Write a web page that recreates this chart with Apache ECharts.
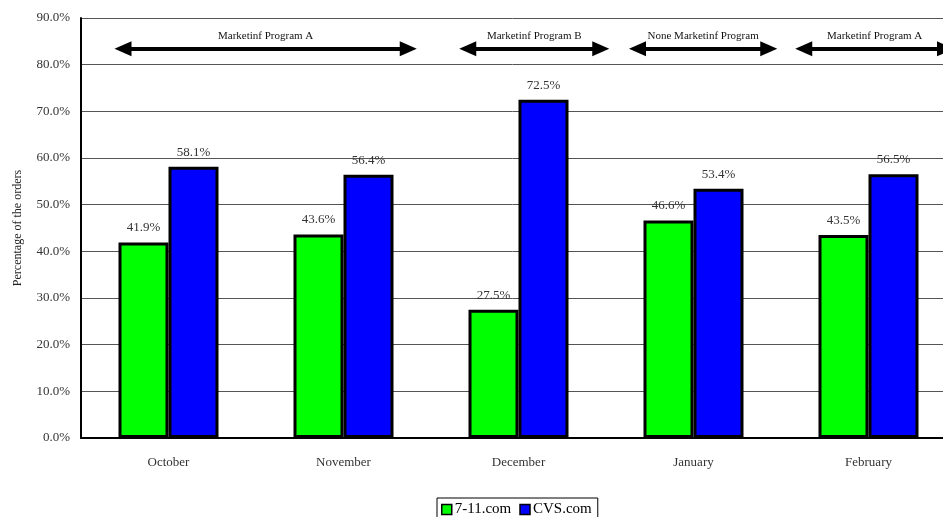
<!DOCTYPE html>
<html>
<head>
<meta charset="utf-8">
<script src="https://cdn.jsdelivr.net/npm/echarts@6/dist/echarts.min.js"></script>
<style>html,body{margin:0;padding:0;background:#fff;}#c{width:943px;height:517px;}</style>
</head>
<body>
<div id="c"></div>
<script>
const categories = ['October', 'November', 'December', 'January', 'February'];
const seven11 = [41.9, 43.6, 27.5, 46.6, 43.5];
const cvs = [58.1, 56.4, 72.5, 53.4, 56.5];
const periodNames = ['Marketinf Program A', 'Marketinf Program B', 'None Marketinf Program', 'Marketinf Program A'];
const periodStart = [0.24, 2.21, 3.18, 4.13];
const periodEnd = [1.87, 2.97, 3.93, 4.94];
const arrowLevel = 83.4;

const FONT = '"Liberation Serif", "Times New Roman", serif';
const chart = echarts.init(document.getElementById('c'));

const arrowData = periodNames.map((n, i) => [
  { coord: [periodStart[i], arrowLevel], name: n },
  { coord: [periodEnd[i], arrowLevel] }
]);

chart.setOption({
  animation: false,
  textStyle: { fontFamily: FONT },
  grid: { left: 81, top: 18, width: 875, height: 420, outerBoundsMode: 'none', containLabel: false },
  legend: {
    bottom: -6, left: 437,
    itemWidth: 10, itemHeight: 10, itemGap: 8,
    borderColor: '#000', borderWidth: 1, padding: [4, 6, 6, 4],
    textStyle: { fontFamily: FONT, fontSize: 15, color: '#000', padding: [0, 0, 0, -2] },
    data: [
      { name: '7-11.com', icon: 'rect', itemStyle: { borderColor: '#000', borderWidth: 1.5 } },
      { name: 'CVS.com', icon: 'rect', itemStyle: { borderColor: '#000', borderWidth: 1.5 } }
    ]
  },
  xAxis: [{
    type: 'category', data: categories,
    axisLine: { lineStyle: { color: '#000', width: 2 } },
    axisTick: { inside: true, length: 5, lineStyle: { color: '#000' } },
    axisLabel: { fontFamily: FONT, fontSize: 13, color: '#333', margin: 18 }
  }, {
    type: 'value', min: 0, max: 5, show: false
  }],
  yAxis: {
    type: 'value', min: 0, max: 90, interval: 10,
    name: 'Percentage of the orders', nameLocation: 'middle', nameGap: 57,
    nameTextStyle: { fontFamily: FONT, fontSize: 12, color: '#222' },
    axisLine: { show: true, lineStyle: { color: '#000', width: 2 } },
    axisTick: { show: false },
    axisLabel: { fontFamily: FONT, fontSize: 13, color: '#333', margin: 11,
      formatter: v => v.toFixed(1) + '%' },
    splitLine: { lineStyle: { color: '#555', width: 1 } }
  },
  series: [{
    name: '7-11.com', type: 'bar', data: seven11, barWidth: 50, barGap: '0%',
    itemStyle: { color: '#00ff00', borderColor: '#000', borderWidth: 3 },
    label: { show: true, position: 'top', distance: 8, fontFamily: FONT, fontSize: 13, color: '#333',
      formatter: p => p.value.toFixed(1) + '%' }
  }, {
    name: 'CVS.com', type: 'bar', data: cvs, barWidth: 50,
    itemStyle: { color: '#0000ff', borderColor: '#000', borderWidth: 3 },
    label: { show: true, position: 'top', distance: 8, fontFamily: FONT, fontSize: 13, color: '#333',
      formatter: p => p.value.toFixed(1) + '%' }
  }, {
    name: 'periods', type: 'line', xAxisIndex: 1, yAxisIndex: 0, data: [],
    markLine: {
      silent: true,
      symbol: ['triangle', 'triangle'], symbolSize: [15, 17],
      lineStyle: { color: '#000', width: 4, type: 'solid' },
      label: { show: true, position: 'middle', formatter: '{b}', fontFamily: FONT, fontSize: 11, color: '#111', distance: 7 },
      data: arrowData
    }
  }]
});
</script>
</body>
</html>
